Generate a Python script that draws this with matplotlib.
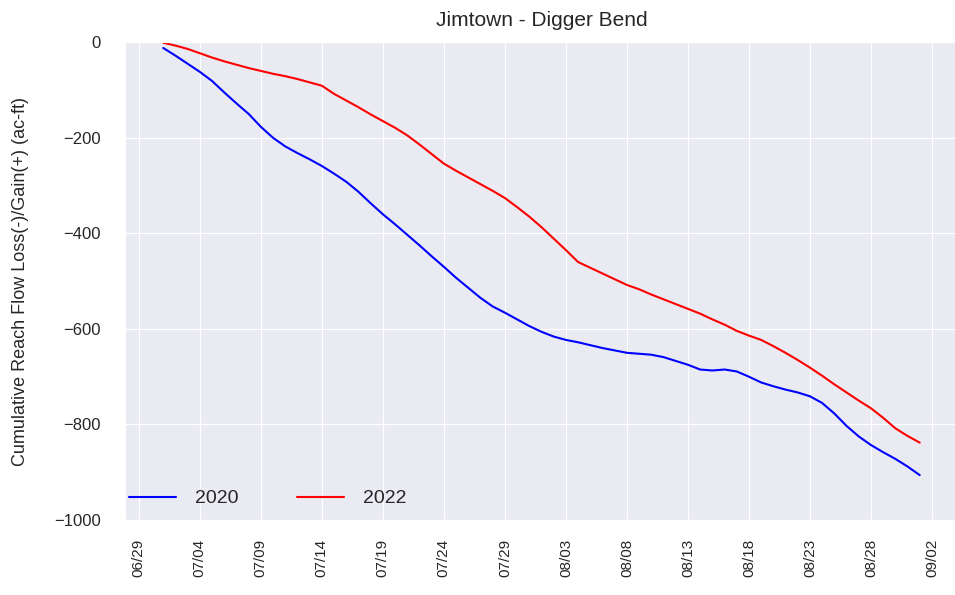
import numpy as np
import pandas as pd
import matplotlib
matplotlib.use("Agg")
import matplotlib.pyplot as plt
import matplotlib.dates as mdates
import seaborn as sns

# daily cumulative values, 07/01 - 09/01
start_date = "2022-07-01"
loss_2020 = [-12, -28, -45, -62, -81, -105, -128, -150, -177, -200,
             -218, -232, -245, -259, -275, -292, -313, -337, -360, -381,
             -403, -425, -448, -470, -493, -514, -535, -553, -566, -580,
             -594, -606, -616, -623, -628, -634, -640, -645, -650, -652,
             -654, -659, -667, -675, -685, -687, -685, -689, -700, -712,
             -720, -727, -733, -741, -755, -777, -803, -825, -843, -858,
             -872, -888, -906]
loss_2022 = [-1, -7, -14, -23, -32, -40, -47, -54, -60, -66,
             -71, -77, -84, -91, -108, -122, -136, -151, -165, -179,
             -195, -214, -234, -254, -269, -283, -297, -311, -326, -345,
             -365, -387, -411, -435, -460, -472, -484, -496, -508, -517,
             -528, -538, -548, -558, -568, -580, -591, -604, -614, -623,
             -636, -650, -665, -681, -698, -716, -733, -750, -766, -786,
             -808, -824, -838]
series_labels = ["2020", "2022"]
series_colors = ["blue", "red"]
y_ticks = [0, -200, -400, -600, -800, -1000]

dates = pd.date_range(start_date, periods=len(loss_2020), freq="D")

sns.set_style("darkgrid")
plt.rcParams['font.family'] = ['Liberation Sans', 'DejaVu Sans']

fig = plt.figure(figsize=(9.55, 5.95), dpi=100)
ax = fig.add_axes([0.131, 0.126, 0.872, 0.803])

for vals, lab, col in zip([loss_2020, loss_2022], series_labels, series_colors):
    ax.plot(dates, vals, color=col, linewidth=1.5, label=lab)

ax.set_ylim(-1000, 0)
ax.set_yticks(y_ticks)
ax.set_xlim(pd.Timestamp("2022-06-27 21:00"), pd.Timestamp("2022-09-04 03:00"))
tick_dates = pd.date_range("2022-06-29", "2022-09-02", freq="5D")
ax.set_xticks(tick_dates)
ax.xaxis.set_major_formatter(mdates.DateFormatter("%m/%d"))
ax.tick_params(axis="y", labelsize=12, pad=14)
ax.tick_params(axis="x", labelsize=11, pad=10)
plt.setp(ax.get_xticklabels(), rotation=90)

ax.set_title("Jimtown - Digger Bend", fontsize=15, pad=12)
ax.set_ylabel("Cumulative Reach Flow Loss(-)/Gain(+) (ac-ft)", fontsize=13,
              labelpad=18)
ax.legend(loc="lower left", ncol=2, frameon=False, fontsize=14,
          bbox_to_anchor=(-0.016, -0.01), columnspacing=3.0, handlelength=2.4,
          handletextpad=1.0)

fig.savefig("out.png", dpi=100)
